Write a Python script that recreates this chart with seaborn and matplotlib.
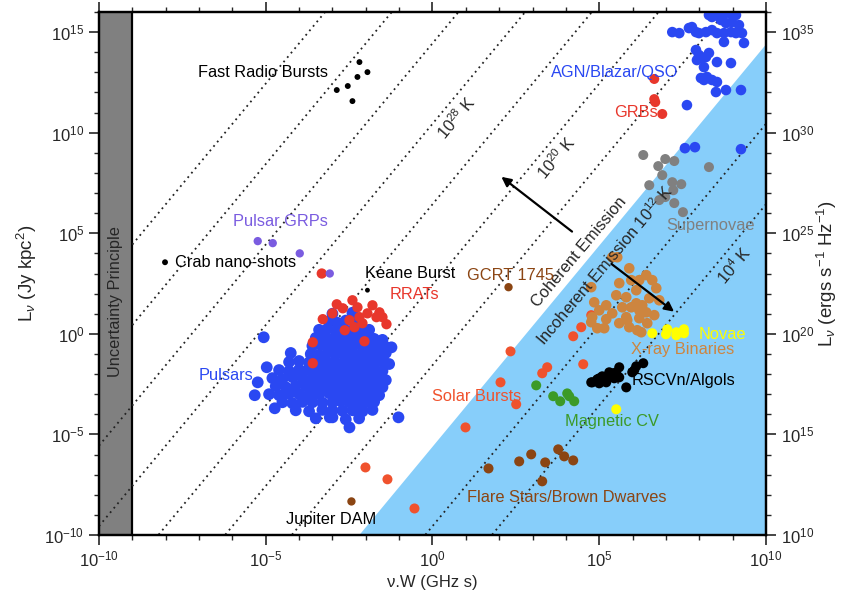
import numpy as np
import pandas as pd
import matplotlib
matplotlib.use('Agg')
import matplotlib.pyplot as plt
import matplotlib.ticker as mticker
import seaborn as sns

# log10(nu*W / GHz s), log10(L_nu / Jy kpc^2)
frb = [(-2.19, 13.51), (-1.95, 13.01), (-2.25, 12.77), (-2.54, 12.32), (-2.87, 12.12), (-2.40, 11.57)]
crab = [(-8.02, 3.56)]
keane = [(-1.95, 2.17)]
jupiter = [(-2.43, -8.33)]
gcrt = [(2.28, 2.32)]
grps = [(-5.24, 4.61), (-4.79, 4.51), (-3.98, 4.0), (-3.08, 3.0)]
rrats = [(-2.87, 1.47), (-2.40, 1.67), (-2.25, 1.32), (-1.80, 1.42), (-1.59, 1.07), (-1.68, 0.83),
         (-2.19, 0.83), (-2.49, 0.68), (-2.63, 0.18), (-1.38, 0.48), (-2.04, -0.37), (-3.59, -0.42),
         (-3.59, -1.46), (-3.29, 0.73), (-2.69, 1.27), (-1.95, 1.02), (-2.10, 0.53), (-2.34, 0.33),
         (-1.50, 0.83), (-3.0, 1.02), (-3.32, 3.0)]
pulsars = [
    (-3.0, 1.0), (-2.4, 1.05),
    (-3.1, 0.62), (-2.85, 0.55), (-2.6, 0.66), (-2.3, 0.5),
    (-3.4, 0.2), (-3.15, 0.25), (-2.9, 0.15), (-2.65, 0.22), (-2.4, 0.18), (-2.15, 0.1), (-1.9, 0.2),
    (-3.5, -0.2), (-3.25, -0.15), (-3.0, -0.25), (-2.75, -0.2), (-2.5, -0.18), (-2.25, -0.22),
    (-2.0, -0.2), (-1.75, -0.25), (-1.5, -0.3),
    (-3.6, -0.6), (-3.35, -0.55), (-3.1, -0.6), (-2.85, -0.65), (-2.6, -0.6), (-2.35, -0.55),
    (-2.1, -0.62), (-1.85, -0.6), (-1.6, -0.58), (-1.4, -0.65),
    (-3.65, -1.0), (-3.4, -1.05), (-3.15, -0.95), (-2.9, -1.0), (-2.65, -1.02), (-2.4, -0.98),
    (-2.15, -1.0), (-1.9, -1.05), (-1.65, -1.0), (-1.4, -0.95),
    (-4.3, -1.4), (-4.0, -1.35), (-3.7, -1.42), (-3.45, -1.4), (-3.2, -1.38), (-2.95, -1.4),
    (-2.7, -1.45), (-2.45, -1.4), (-2.2, -1.35), (-1.95, -1.4), (-1.7, -1.42), (-1.45, -1.4), (-1.3, -1.5),
    (-4.6, -1.8), (-4.3, -1.85), (-4.0, -1.78), (-3.75, -1.8), (-3.5, -1.82), (-3.25, -1.8),
    (-3.0, -1.75), (-2.75, -1.8), (-2.5, -1.85), (-2.25, -1.8), (-2.0, -1.78), (-1.75, -1.8), (-1.5, -1.85),
    (-4.8, -2.2), (-4.5, -2.25), (-4.2, -2.15), (-3.9, -2.2), (-3.6, -2.22), (-3.35, -2.2),
    (-3.1, -2.18), (-2.85, -2.2), (-2.6, -2.25), (-2.35, -2.2), (-2.1, -2.15), (-1.85, -2.2),
    (-1.6, -2.25), (-1.4, -2.3),
    (-4.7, -2.6), (-4.4, -2.65), (-4.1, -2.58), (-3.8, -2.6), (-3.5, -2.62), (-3.25, -2.6),
    (-3.0, -2.55), (-2.75, -2.6), (-2.5, -2.65), (-2.25, -2.6), (-2.0, -2.58), (-1.75, -2.6), (-1.5, -2.65),
    (-4.9, -3.0), (-4.6, -3.05), (-4.3, -2.98), (-4.0, -3.0), (-3.7, -3.02), (-3.4, -3.0),
    (-3.1, -2.95), (-2.85, -3.0), (-2.6, -3.05), (-2.35, -3.0), (-2.1, -2.98), (-1.85, -3.0), (-1.6, -3.05),
    (-4.5, -3.4), (-4.2, -3.45), (-3.9, -3.38), (-3.6, -3.4), (-3.3, -3.42), (-3.0, -3.4),
    (-2.75, -3.35), (-2.5, -3.4), (-2.25, -3.45), (-2.0, -3.4), (-1.75, -3.38),
    (-4.1, -3.8), (-3.7, -3.85), (-3.3, -3.78), (-3.0, -3.8), (-2.7, -3.82), (-2.4, -3.8),
    (-2.1, -3.85), (-1.8, -3.78),
    (-3.5, -4.2), (-3.0, -4.15), (-2.6, -4.25), (-2.2, -4.2),
    (-5.06, -0.17), (-4.25, -0.95), (-4.97, -1.66), (-5.24, -2.41), (-5.33, -3.05), (-4.73, -3.70),
    (-2.49, -4.65), (-3.08, -4.15), (-1.02, -4.15), (-1.23, -0.67)]
agn = [(8.29, 15.85), (8.50, 15.85), (8.68, 15.75), (8.89, 15.95), (9.10, 15.85), (8.80, 15.45),
       (8.98, 15.50), (9.19, 15.35), (8.65, 15.60), (8.95, 15.0), (9.10, 14.95), (8.74, 14.95),
       (9.28, 14.95), (8.38, 15.75), (7.19, 15.0), (7.40, 14.95), (7.69, 15.20), (7.90, 15.0),
       (7.99, 14.95), (8.20, 15.0), (8.38, 15.10), (8.53, 14.95), (7.78, 15.25), (8.74, 14.51),
       (9.34, 14.46), (7.90, 14.11), (7.99, 13.86), (8.08, 13.71), (7.93, 13.61), (8.20, 13.76),
       (8.29, 13.96), (8.53, 13.51), (8.95, 13.46), (8.14, 13.26), (8.05, 12.72), (8.23, 12.77),
       (8.38, 12.62), (8.53, 12.52), (8.14, 12.62), (8.50, 12.02), (8.80, 12.12), (9.25, 12.12),
       (7.63, 11.37), (7.57, 9.23), (7.87, 9.28), (9.25, 9.18)]
grbs = [(6.65, 12.67), (6.65, 11.67), (6.68, 11.52), (6.89, 10.93)]
supernovae = [(6.32, 8.89), (6.77, 8.34), (6.98, 8.69), (7.25, 8.59), (6.89, 7.89), (6.50, 7.39),
              (7.19, 7.54), (7.46, 7.44), (6.98, 6.80), (6.80, 6.65), (7.25, 6.50), (7.51, 6.05),
              (8.29, 8.29), (7.22, 7.14)]
xray_binaries = [(5.54, 3.81), (5.39, 3.81), (5.90, 3.26), (4.76, 2.32), (5.60, 2.52), (5.96, 2.67),
                 (6.20, 2.67), (6.41, 2.92), (6.59, 2.67), (6.71, 2.27), (6.50, 1.77), (6.11, 2.17),
                 (5.81, 1.82), (5.51, 1.92), (5.21, 1.42), (5.0, 1.17), (4.79, 0.83), (4.94, 0.28),
                 (5.15, 0.28), (5.60, 0.53), (5.81, 0.83), (6.11, 1.52), (6.20, 1.17), (6.41, 1.07),
                 (6.65, 0.93), (6.20, 0.78), (5.90, 0.33), (6.26, 0.08), (6.44, 0.53), (6.80, 1.67),
                 (5.96, 1.32), (5.69, 1.32), (5.39, 1.02), (6.29, 1.42), (4.85, 1.57), (4.76, 0.58),
                 (5.21, 0.73), (5.84, 0.68), (6.14, 0.18)]
novae = [(6.59, 0.03), (7.0, -0.02), (7.04, 0.23), (7.31, 0.08), (7.31, -0.07), (7.54, 0.23),
         (7.54, 0.03), (5.51, -3.75)]
rscvn = [(4.76, -2.41), (4.79, -2.41), (4.94, -2.26), (5.0, -2.21), (5.09, -2.11), (5.21, -2.41),
         (5.30, -1.91), (5.36, -2.06), (5.39, -1.96), (5.45, -2.21), (5.51, -1.91), (5.60, -1.66),
         (5.60, -2.16), (5.81, -2.66), (5.99, -1.91), (6.05, -1.81), (6.11, -1.61), (6.32, -1.46),
         (5.0, -2.46), (5.21, -2.31)]
magnetic_cv = [(3.11, -2.56), (3.62, -3.10), (3.83, -3.35), (4.04, -2.96), (4.10, -3.10), (4.25, -3.35)]
solar = [(4.76, 0.93), (4.46, 0.33), (4.22, -0.12), (4.52, -1.51), (2.34, -0.87), (3.44, -1.66),
         (3.29, -1.96), (2.04, -2.41), (2.51, -3.50), (0.99, -4.65), (-0.54, -8.68), (-2.01, -6.64),
         (-1.35, -7.23)]
flare_stars = [(1.68, -6.69), (2.60, -6.34), (2.96, -5.99), (3.38, -6.39), (3.77, -5.74),
               (3.95, -6.09), (4.22, -6.29), (3.29, -7.33)]

# brightness temperature lines (log10 T / K); 12 is the coherent/incoherent edge
t_lines = [4, 8, 16, 20, 24, 28, 32, 36, 40]
t_coherent = 12
t_offset = -17.56  # log L = log T + 2 log(nu W) + offset

BLUE = '#2a48f2'
RED = '#e8372c'
groups = [
    ('Flare Stars', flare_stars, '#8b4513', 52),
    ('Solar', solar, '#f0522d', 52),
    ('Magnetic CV', magnetic_cv, '#3c9a28', 52),
    ('RSCVn', rscvn, 'black', 52),
    ('X-ray Binaries', xray_binaries, '#cd853f', 58),
    ('Novae', novae, '#ffff00', 52),
    ('Supernovae', supernovae, '#808080', 52),
    ('GRBs', grbs, RED, 52),
    ('AGN', agn, BLUE, 58),
    ('Pulsars', pulsars, BLUE, 72),
    ('RRATs', rrats, RED, 55),
    ('GRPs', grps, '#7a5ce0', 36),
    ('FRB', frb, 'black', 18),
    ('Crab', crab, 'black', 18),
    ('Keane', keane, 'black', 12),
    ('GCRT', gcrt, '#8b4513', 36),
    ('Jupiter', jupiter, '#8b4513', 36),
]

sns.set_style('ticks')
plt.rcParams['font.family'] = ['Liberation Sans', 'DejaVu Sans']
plt.rcParams['mathtext.fontset'] = 'custom'
plt.rcParams['mathtext.rm'] = 'Liberation Sans'
plt.rcParams['mathtext.it'] = 'Liberation Sans:italic'

fig = plt.figure(figsize=(8.41, 5.96), dpi=100)
ax = fig.add_axes([0.1177, 0.1023, 0.7931, 0.8776])
ax.set_xscale('log')
ax.set_yscale('log')
ax.set_xlim(1e-10, 1e10)
ax.set_ylim(1e-10, 1e16)

# incoherent region
x0 = (-10 - t_coherent - t_offset) / 2
xb = np.logspace(x0, 10, 100)
ax.fill_between(xb, 1e-10, 10 ** (t_coherent + t_offset + 2 * np.log10(xb)),
                color='#87cefa', lw=0, zorder=0)

# uncertainty principle band
ax.axvspan(1e-10, 1e-9, color='#808080', lw=0, zorder=0.5)
ax.axvline(1e-9, color='black', lw=1.6, zorder=0.6)

for t in t_lines:
    start = -10 if t <= 32 else -9
    xs = np.logspace(start, 10, 300)
    ax.plot(xs, 10 ** (t + t_offset + 2 * np.log10(xs)), ls=(0, (1, 2.2)),
            color='#222222', lw=1.3, zorder=1)

for name, pts, col, size in groups:
    d = pd.DataFrame(pts, columns=['lx', 'ly'])
    sns.scatterplot(x=10 ** d['lx'], y=10 ** d['ly'], color=col, s=size,
                    edgecolor='none', linewidth=0, ax=ax, zorder=3, legend=False)

# arrows
ax.annotate('', xy=(10 ** 2.0, 10 ** 7.89), xytext=(10 ** 4.25, 10 ** 5.0),
            arrowprops=dict(arrowstyle='-|>', color='black', lw=1.6, mutation_scale=14), zorder=4)
ax.annotate('', xy=(10 ** 7.31, 10 ** 1.02), xytext=(10 ** 5.3, 10 ** 3.56),
            arrowprops=dict(arrowstyle='-|>', color='black', lw=1.6, mutation_scale=14), zorder=4)

fs = 11.8
labels = [
    ('Fast Radio Bursts', -7.04, 13.01, 'black'),
    ('Pulsar GRPs', -5.99, 5.60, '#7a5ce0'),
    ('Crab nano-shots', -7.72, 3.56, 'black'),
    ('Keane Burst', -2.01, 3.01, 'black'),
    ('RRATs', -1.29, 1.97, RED),
    ('GCRT 1745', 1.02, 2.92, '#8b4513'),
    ('Pulsars', -7.01, -2.06, BLUE),
    ('Solar Bursts', 0.0, -3.10, '#f0522d'),
    ('Jupiter DAM', -4.40, -9.22, 'black'),
    ('Flare Stars/Brown Dwarves', 1.02, -8.13, '#8b4513'),
    ('Magnetic CV', 3.98, -4.35, '#3c9a28'),
    ('RSCVn/Algols', 5.96, -2.31, 'black'),
    ('X-ray Binaries', 5.96, -0.77, '#cd853f'),
    ('Novae', 7.99, -0.02, '#ffff00'),
    ('Supernovae', 7.01, 5.40, '#808080'),
    ('GRBs', 5.45, 10.98, RED),
    ('AGN/Blazar/QSO', 3.56, 13.01, BLUE),
]
for txt, lx, ly, col in labels:
    ax.text(10 ** lx, 10 ** ly, txt, color=col, fontsize=fs, ha='left', va='center', zorder=5)

rot = 50
ax.text(10 ** 0.72, 10 ** 10.73, r'10$^{28}$ K', rotation=rot, ha='center', va='center', fontsize=fs)
ax.text(10 ** 3.71, 10 ** 8.74, r'10$^{20}$ K', rotation=rot, ha='center', va='center', fontsize=fs)
ax.text(10 ** 9.04, 10 ** 3.41, r'10$^{4}$ K', rotation=rot, ha='center', va='center', fontsize=fs)
ax.text(10 ** 4.40, 10 ** 4.06, 'Coherent Emission', rotation=rot, ha='center', va='center', fontsize=fs)
ax.text(10 ** 5.15, 10 ** 3.41, r'Incoherent Emission 10$^{12}$ K', rotation=rot,
        ha='center', va='center', fontsize=fs)
ax.text(10 ** -9.49, 10 ** 1.62, 'Uncertainty Principle', rotation=90, ha='center', va='center',
        fontsize=fs)

major = [10.0 ** k for k in range(-10, 17, 5)]
minor = [10.0 ** k for k in range(-10, 17)]
ax.xaxis.set_major_locator(mticker.FixedLocator(major))
ax.xaxis.set_minor_locator(mticker.FixedLocator(minor))
ax.yaxis.set_major_locator(mticker.FixedLocator(major))
ax.yaxis.set_minor_locator(mticker.FixedLocator(minor))
for a in (ax.xaxis, ax.yaxis):
    a.set_major_formatter(mticker.LogFormatterSciNotation())
    a.set_minor_formatter(mticker.NullFormatter())
ax.tick_params(which='both', direction='out', top=True, right=False, labelsize=12)
ax.tick_params(which='major', length=7, width=1.2)
ax.tick_params(which='minor', length=3.5, width=1)

ax2 = ax.twinx()
ax2.set_yscale('log')
ax2.set_ylim(1e10, 1e36)
ax2.yaxis.set_major_locator(mticker.FixedLocator([10.0 ** k for k in range(10, 37, 5)]))
ax2.yaxis.set_minor_locator(mticker.FixedLocator([10.0 ** k for k in range(10, 37)]))
ax2.yaxis.set_major_formatter(mticker.LogFormatterSciNotation())
ax2.yaxis.set_minor_formatter(mticker.NullFormatter())
ax2.tick_params(which='both', direction='out', labelsize=12)
ax2.tick_params(which='major', length=7, width=1.2)
ax2.tick_params(which='minor', length=3.5, width=1)

for a in (ax, ax2):
    for s in a.spines.values():
        s.set_linewidth(1.6)
        s.set_color('black')

ax.set_xlabel('\u03bd.W (GHz s)', fontsize=12, labelpad=4)
ax.set_ylabel(r'L$_\nu$ (Jy kpc$^2$)', fontsize=13.5, labelpad=4)
ax2.set_ylabel(r'L$_\nu$ (ergs s$^{-1}$ Hz$^{-1}$)', fontsize=13.5, labelpad=1)

fig.savefig('out.png', dpi=100)
